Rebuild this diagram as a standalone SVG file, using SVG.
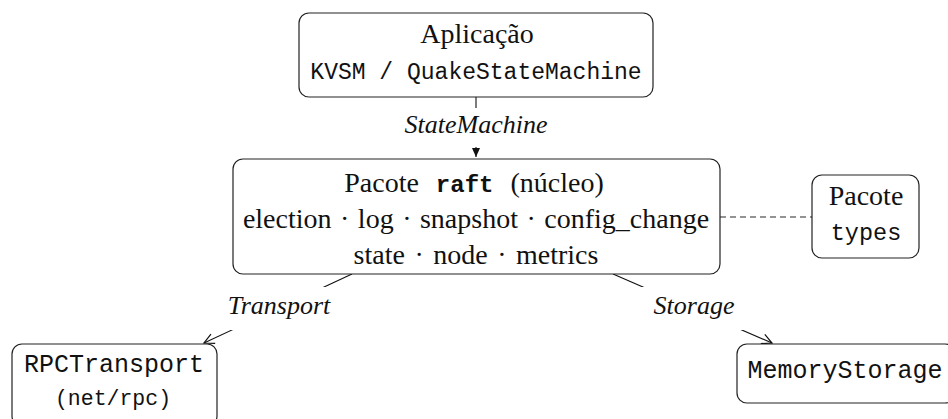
<svg xmlns="http://www.w3.org/2000/svg" width="948" height="419" viewBox="0 0 948 419">
<defs>
<style>
.box{fill:#fff;stroke:#222;stroke-width:1.2}
.rm{font-family:"Liberation Serif","Times New Roman",serif;font-size:28px;fill:#111}
.it{font-family:"Liberation Serif","Times New Roman",serif;font-style:italic;font-size:26px;fill:#111}
.tt{font-family:"Liberation Mono","Courier New",monospace;fill:#111}
.edge{fill:none;stroke:#111;stroke-width:1.1}
.dash{fill:none;stroke:#707070;stroke-width:1.3;stroke-dasharray:6 4}
.bg{fill:#fff;stroke:none}
</style>
<marker id="tri" markerUnits="userSpaceOnUse" markerWidth="12" markerHeight="12" viewBox="-10 -6 12 12" refX="0" refY="0" orient="auto">
<path d="M-9,-4 L0,0 L-9,4 Z" fill="#111"/>
</marker>
<marker id="to" markerUnits="userSpaceOnUse" markerWidth="14" markerHeight="14" viewBox="-12 -7 14 14" refX="0" refY="0" orient="auto">
<path d="M-10,-5 Q-3,-1.5 0,0 Q-3,1.5 -10,5" fill="none" stroke="#111" stroke-width="1.2"/>
</marker>
</defs>
<rect width="948" height="419" fill="#fff"/>
<g id="connectors">
<path class="edge" d="M476,97 L476,157" marker-end="url(#tri)"/>
<path class="edge" d="M352,274 L204,343" marker-end="url(#to)"/>
<path class="edge" d="M613,274 L772,343" marker-end="url(#to)"/>
<path class="dash" d="M720,217 L812,217"/>
<rect class="bg" x="398" y="108" width="156" height="39"/>
<text class="it" x="476" y="133" text-anchor="middle">StateMachine</text>
<rect class="bg" x="222" y="287" width="114" height="43"/>
<text class="it" x="279" y="314" text-anchor="middle">Transport</text>
<rect class="bg" x="640" y="287" width="105" height="43"/>
<text class="it" x="694" y="314" text-anchor="middle">Storage</text>
</g>
<g id="app">
<rect class="box" x="299" y="13" width="354" height="84" rx="10"/>
<text class="rm" x="477" y="43" text-anchor="middle">Aplicação</text>
<text class="tt" x="476" y="79" text-anchor="middle" font-size="23">KVSM / QuakeStateMachine</text>
</g>
<g id="raft">
<rect class="box" x="233" y="159" width="487" height="115" rx="10"/>
<text class="rm" x="474" y="192" text-anchor="middle" word-spacing="10">Pacote <tspan class="tt" font-weight="bold" font-size="24">raft</tspan> (núcleo)</text>
<text class="rm" x="476" y="228" text-anchor="middle" word-spacing="1.5">election · log · snapshot · config_change</text>
<text class="rm" x="476" y="264" text-anchor="middle" word-spacing="2.5">state · node · metrics</text>
</g>
<g id="types">
<rect class="box" x="812" y="175" width="107" height="83" rx="10"/>
<text class="rm" x="866" y="205" text-anchor="middle">Pacote</text>
<text class="tt" x="866" y="240" text-anchor="middle" font-size="23.5">types</text>
</g>
<g id="rpc">
<rect class="box" x="12" y="344" width="205" height="82" rx="10"/>
<text class="tt" x="114" y="372" text-anchor="middle" font-size="25">RPCTransport</text>
<text class="tt" x="113" y="405" text-anchor="middle" font-size="21.5">(net/rpc)</text>
</g>
<g id="mem">
<rect class="box" x="737" y="344" width="218" height="59" rx="10"/>
<text class="tt" x="845" y="378" text-anchor="middle" font-size="25">MemoryStorage</text>
</g>
</svg>
